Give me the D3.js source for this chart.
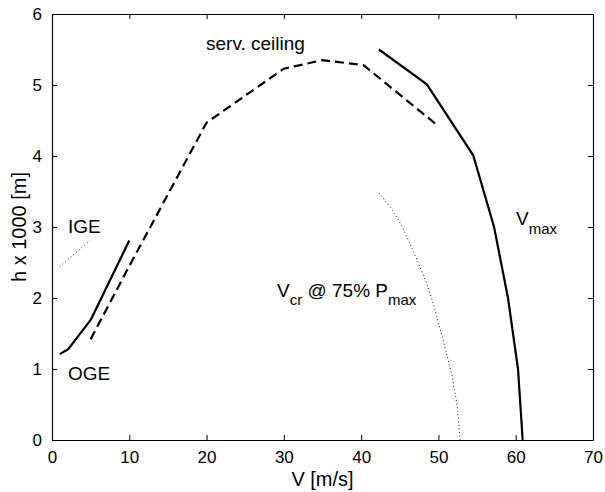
<!DOCTYPE html>
<html><head><meta charset="utf-8">
<script src="https://cdn.jsdelivr.net/npm/d3@7"></script>
<style>body{margin:0;background:#fff}svg{display:block}text{font-family:"Liberation Sans",Arial,sans-serif;fill:#000}</style>
</head><body><svg id="c" width="605" height="492"></svg>
<script>
const xTicks = [0,10,20,30,40,50,60,70];
const yTicks = [0,1,2,3,4,5,6];
// OGE hover ceiling (solid)
const ogeV = [1.0, 2.1, 5.05, 10.0];
const ogeH = [1.21, 1.28, 1.70, 2.81];
// IGE hover ceiling (dotted)
const igeV = [1.0, 4.9];
const igeH = [2.44, 2.81];
// service ceiling (dashed)
const servV = [5.0, 10.0, 20.0, 30.0, 35.0, 40.3, 50.0];
const servH = [1.42, 2.45, 4.47, 5.23, 5.35, 5.28, 4.42];
// Vmax (solid)
const vmaxV = [42.3, 48.5, 54.5, 57.2, 59.0, 60.3, 60.9];
const vmaxH = [5.50, 5.01, 4.01, 3.0, 2.0, 1.0, 0.0];
// Vcr @ 75% Pmax (dotted)
const vcrV = [42.3, 44.0, 45.2, 47.0, 48.5, 49.3, 50.5, 51.7, 52.4, 52.8];
const vcrH = [3.48, 3.25, 3.03, 2.6, 2.2, 1.93, 1.45, 0.94, 0.5, 0.0];

const svg = d3.select("#c");
const L=52, R=593, T=14, B=440;
const x = d3.scaleLinear().domain([0,70]).range([L,R]);
const y = d3.scaleLinear().domain([0,6]).range([B,T]);
const g = svg.append("g");

// axes with inward ticks
const fs = "17px";
const fmt = d3.format("d");
const xb = g.append("g").attr("transform",`translate(0,${B})`)
  .call(d3.axisBottom(x).tickValues(xTicks).tickFormat(fmt).tickSizeInner(-5).tickSizeOuter(0).tickPadding(11));
const xt = g.append("g").attr("transform",`translate(0,${T})`)
  .call(d3.axisTop(x).tickValues(xTicks).tickSizeInner(-5).tickSizeOuter(0).tickFormat(""));
const yl = g.append("g").attr("transform",`translate(${L},0)`)
  .call(d3.axisLeft(y).tickValues(yTicks).tickFormat(fmt).tickSizeInner(-5).tickSizeOuter(0).tickPadding(10));
const yr = g.append("g").attr("transform",`translate(${R},0)`)
  .call(d3.axisRight(y).tickValues(yTicks).tickSizeInner(-5).tickSizeOuter(0).tickFormat(""));
[xb,xt,yl,yr].forEach(a=>{
  a.selectAll("text").style("font-size",fs).style("font-family","Liberation Sans, Arial, sans-serif");
  a.selectAll("line").attr("stroke","#000").attr("stroke-width",1);
  a.select(".domain").attr("stroke","#000").attr("stroke-width",1.2);
});

const line = d3.line().x(d=>x(d[0])).y(d=>y(d[1]));
function draw(V,H,style){
  const pts = V.map((v,i)=>[v,H[i]]);
  const p = g.append("path").datum(pts).attr("d",line).attr("fill","none").attr("stroke","#000");
  if(style==="solid") p.attr("stroke-width",2.2);
  if(style==="dashed") p.attr("stroke-width",2.2).attr("stroke-dasharray","9,5");
  if(style==="dotted") p.attr("stroke-width",1).attr("stroke-dasharray","1,2.6").attr("stroke","#222");
}
draw(ogeV,ogeH,"solid");
draw(igeV,igeH,"dotted");
draw(servV,servH,"dashed");
draw(vmaxV,vmaxH,"solid");
draw(vcrV,vcrH,"dotted");

// annotations
const af = "19px";
g.append("text").attr("x",68).attr("y",233).style("font-size",af).text("IGE");
g.append("text").attr("x",68).attr("y",380).style("font-size",af).text("OGE");
g.append("text").attr("x",206).attr("y",50).style("font-size",af).text("serv. ceiling");
const vm = g.append("text").attr("x",516).attr("y",225).style("font-size",af);
vm.append("tspan").text("V");
vm.append("tspan").attr("dy",9).style("font-size","15px").text("max");
const vc = g.append("text").attr("x",277).attr("y",297).style("font-size",af);
vc.append("tspan").text("V");
vc.append("tspan").attr("dy",8).style("font-size","15px").text("cr");
vc.append("tspan").attr("dy",-8).text(" @ 75% P");
vc.append("tspan").attr("dy",8).style("font-size","15px").text("max");

// axis labels
g.append("text").attr("x",(L+R)/2).attr("y",486).attr("text-anchor","middle").style("font-size","20px").text("V [m/s]");
g.append("text").attr("transform",`translate(26,${(T+B)/2}) rotate(-90)`).attr("text-anchor","middle").style("font-size","20px").text("h x 1000 [m]");
</script></body></html>
